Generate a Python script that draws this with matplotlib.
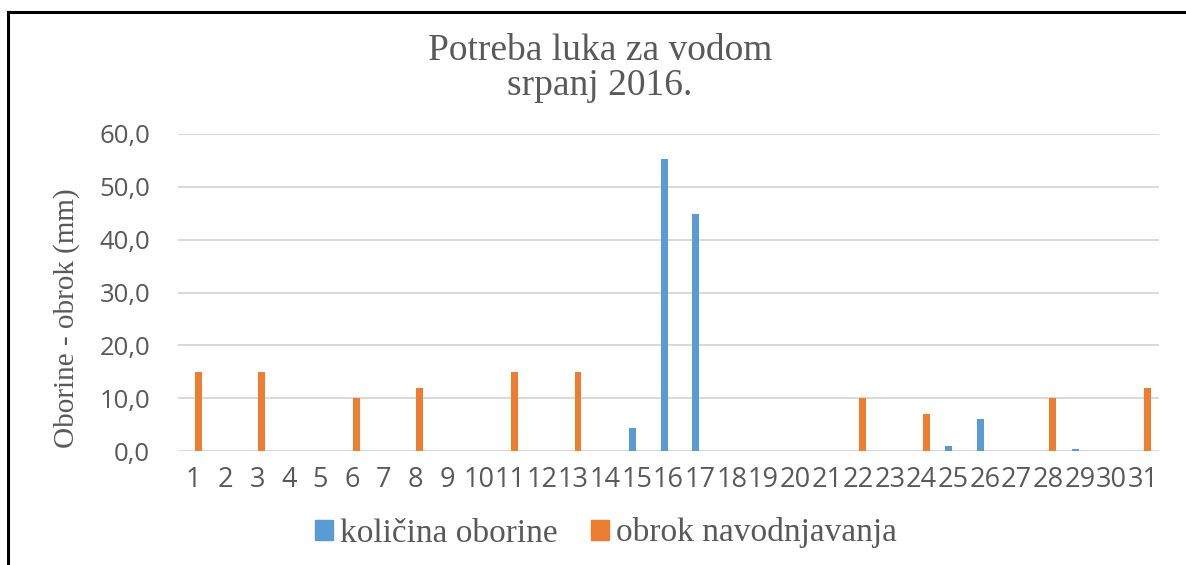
import matplotlib
matplotlib.use('Agg')
import matplotlib.pyplot as plt
from matplotlib.lines import Line2D
from matplotlib.patches import Patch
import numpy as np

# July 2016, daily values in mm
days = list(range(1, 32))
oborine = [0, 0, 0, 0, 0, 0, 0, 0, 0, 0, 0, 0, 0, 0, 4.4,
           55.2, 44.9, 0, 0, 0, 0, 0, 0, 0, 1.0, 6.1, 0, 0, 0.4, 0, 0]
obrok = [15, 0, 15, 0, 0, 10, 0, 12, 0, 0, 15, 0, 15, 0, 0,
         0, 0, 0, 0, 0, 0, 10, 0, 7, 0, 0, 0, 10, 0, 0, 12]
y_ticks = [0, 10, 20, 30, 40, 50, 60]
labels = ['količina oborine', 'obrok navodnjavanja']

BLUE = '#5B9BD5'
ORANGE = '#ED7D31'
GRAY = '#595959'
SERIF = 'Liberation Serif'
SANS = 'Open Sans'

W, H = 1186, 565
fig = plt.figure(figsize=(W / 100, H / 100), dpi=100)
ax = fig.add_axes([178 / W, 1 - 451 / H, (1159 - 178) / W, (451 - 134) / H])

x = np.arange(len(days))
bw = 0.22
ax.bar(x - 0.14, oborine, width=bw, color=BLUE, zorder=3)
ax.bar(x + 0.14, obrok, width=bw, color=ORANGE, zorder=3)

ax.set_xlim(-0.5, len(days) - 0.5)
ax.set_ylim(0, 60)
ax.set_xticks(x)
ax.set_xticklabels([str(d) for d in days], fontfamily=SANS, fontsize=19.5, color=GRAY)
ax.set_yticks(y_ticks)
ax.set_yticklabels([f'{v:.1f}'.replace('.', ',') for v in y_ticks],
                   fontfamily=SANS, fontsize=18.5, color=GRAY)
ax.tick_params(axis='y', length=0, pad=20)
ax.tick_params(axis='x', length=0, pad=11)
ax.grid(axis='y', color='#d9d9d9', lw=1.4, zorder=0)
for s in ax.spines.values():
    s.set_visible(False)

fig.text(600 / W, 1 - 60 / H, 'Potreba luka za vodom', ha='center', va='baseline',
         fontfamily=SERIF, fontsize=27, color=GRAY)
fig.text(600 / W, 1 - 95 / H, 'srpanj 2016.', ha='center', va='baseline',
         fontfamily=SERIF, fontsize=27, color=GRAY)
fig.text(67 / W, 1 - 318 / H, 'Oborine - obrok (mm)', rotation=90, ha='center',
         va='center', fontfamily=SERIF, fontsize=21, color=GRAY)

handles = [Patch(color=BLUE), Patch(color=ORANGE)]
leg = fig.legend(handles, labels, loc='center', bbox_to_anchor=(606 / W, 1 - 533 / H),
                 ncol=2, frameon=False, handlelength=0.55, handleheight=0.55,
                 handletextpad=0.2, columnspacing=1.0,
                 prop={'family': SERIF, 'size': 24})
for t in leg.get_texts():
    t.set_color(GRAY)

# outer frame (top and left edges)
fig.add_artist(Line2D([8 / W, 8 / W], [0, 1 - 12 / H], transform=fig.transFigure,
                      color='black', lw=2.2))
fig.add_artist(Line2D([8 / W, 1], [1 - 12 / H, 1 - 12 / H], transform=fig.transFigure,
                      color='black', lw=2.2))

fig.savefig('out.png', dpi=100)
